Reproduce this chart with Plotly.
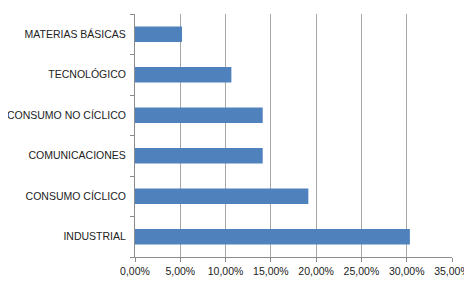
import plotly.graph_objects as go

categories = ["INDUSTRIAL", "CONSUMO CÍCLICO", "COMUNICACIONES",
              "CONSUMO NO CÍCLICO", "TECNOLÓGICO", "MATERIAS BÁSICAS"]
values = [0.3035, 0.1914, 0.1410, 0.1410, 0.1064, 0.0519]
tick_vals = [0, 0.05, 0.10, 0.15, 0.20, 0.25, 0.30, 0.35]
tick_text = ["0,00%", "5,00%", "10,00%", "15,00%", "20,00%", "25,00%", "30,00%", "35,00%"]

font_family = "Liberation Sans Narrow, Arial Narrow, Liberation Sans, sans-serif"

fig = go.Figure(go.Bar(
    x=values, y=categories, orientation="h",
    marker=dict(color="#4F81BD", line=dict(width=0)),
    hoverinfo="x+y",
))

# page body has an 8px default margin, so the figure is 8px smaller than the window
fig.update_layout(
    width=464, height=274,
    margin=dict(l=127, r=20, t=6, b=25),
    paper_bgcolor="white", plot_bgcolor="white",
    bargap=0.615,
    showlegend=False,
    font=dict(family=font_family, size=10.5, color="#222222"),
)
fig.update_xaxes(
    range=[0, 0.35], tickvals=tick_vals, ticktext=tick_text,
    tickangle=0, automargin=False,
    showgrid=True, gridcolor="#a6a6a6", gridwidth=1,
    showline=True, linecolor="#8c8c8c", linewidth=1,
    ticks="outside", ticklen=4, tickcolor="#8c8c8c",
    zeroline=False, fixedrange=True,
)
fig.update_yaxes(
    categoryorder="array", categoryarray=categories,
    automargin=False,
    showgrid=False,
    showline=True, linecolor="#8c8c8c", linewidth=1,
    ticks="outside", ticklen=4, tickcolor="#8c8c8c",
    tickson="boundaries", ticklabelstandoff=6,
    fixedrange=True,
)

fig.write_html("out.html")
